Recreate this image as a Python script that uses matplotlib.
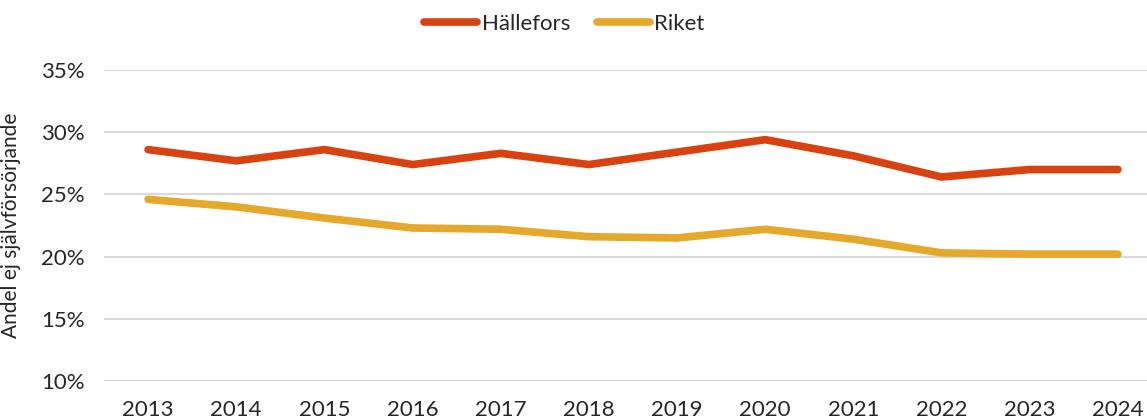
import matplotlib
matplotlib.use("Agg")
from matplotlib import pyplot as plt
from matplotlib.ticker import PercentFormatter

years = ["2013", "2014", "2015", "2016", "2017", "2018",
         "2019", "2020", "2021", "2022", "2023", "2024"]
hallefors = [28.6, 27.7, 28.6, 27.4, 28.3, 27.4, 28.4, 29.4, 28.1, 26.4, 27.0, 27.0]
riket = [24.6, 24.0, 23.1, 22.3, 22.2, 21.6, 21.5, 22.2, 21.4, 20.3, 20.2, 20.2]

plt.rcParams['font.family'] = ['Lato', 'DejaVu Sans']

W, H = 1147, 420
fig = plt.figure(figsize=(W / 100, H / 100), dpi=100)
ax = fig.add_axes([104 / W, 1 - 381 / H, (W - 104) / W, 311 / H])

x = range(len(years))
ax.plot(x, hallefors, color='#D9410F', lw=5.5, solid_capstyle='round',
        solid_joinstyle='miter', label='Hällefors')
ax.plot(x, riket, color='#E5A82A', lw=5.5, solid_capstyle='round',
        solid_joinstyle='miter', label='Riket')

ax.set_ylim(10, 35)
ax.set_yticks([10, 15, 20, 25, 30, 35])
ax.yaxis.set_major_formatter(PercentFormatter(decimals=0))
ax.set_xlim(-0.5, 11.5 - 15 / 88.2)
ax.set_xticks(list(x))
ax.set_xticklabels(years)

ax.grid(axis='y', color='#d9d9d9', lw=1.5)
ax.set_axisbelow(True)
for s in ax.spines.values():
    s.set_visible(False)
ax.tick_params(length=0, labelsize=16, colors='#262626')
ax.tick_params(axis='x', pad=14)
ax.tick_params(axis='y', pad=14)

ax.set_ylabel('Andel ej självförsörjande', fontsize=15, color='#262626')
ax.yaxis.set_label_coords(-0.08, 0.5)

fig.legend(loc='upper center', bbox_to_anchor=(0.492, 1.015), ncol=2, frameon=False,
           fontsize=16, handlelength=2.4, handletextpad=0.2, columnspacing=1.2,
           labelcolor='#262626')

fig.savefig('out.png', dpi=100, facecolor='white')
